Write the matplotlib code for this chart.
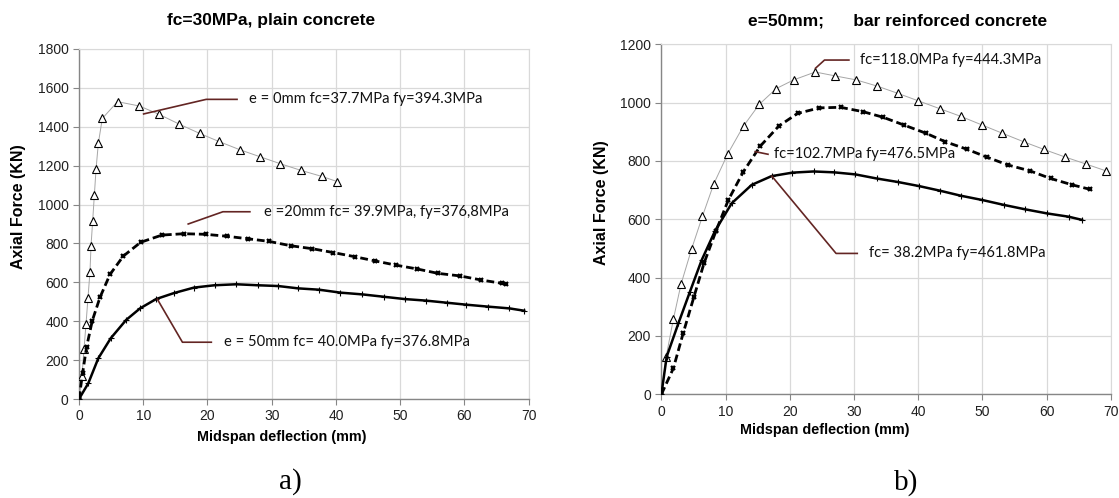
import matplotlib
matplotlib.use("Agg")
import matplotlib.pyplot as plt

# ---- data ----
# a) plain concrete, fc=30MPa
a_e0_x = [0, 0.47, 0.78, 1.09, 1.40, 1.71, 1.87, 2.13, 2.39, 2.65, 3.01, 3.63, 6.0,
          9.39, 12.46, 15.64, 18.77, 21.73, 25.03, 28.16, 31.34, 34.53, 37.77, 40.22]
a_e0_y = [0, 120, 256, 386, 521, 655, 787, 917, 1049, 1181, 1315, 1443, 1529,
          1507, 1464, 1413, 1366, 1325, 1282, 1246, 1210, 1176, 1145, 1118]

a_e20_x = [0, 0.57, 1.19, 2.07, 3.27, 4.83, 6.9, 9.6, 12.9, 16.3, 19.7, 23.0, 26.3,
           29.5, 33.0, 36.3, 39.6, 42.9, 46.1, 49.4, 52.6, 55.9, 59.3, 62.6, 65.8, 66.5]
a_e20_y = [0, 135, 269, 403, 523, 641, 735, 806, 843, 850, 847, 837, 824,
           811, 788, 773, 753, 732, 710, 688, 669, 646, 633, 612, 595, 590]

a_e50_x = [0, 1.45, 3.0, 4.93, 7.32, 9.5, 12.0, 14.8, 17.9, 21.1, 24.5, 27.8, 31.0,
           34.1, 37.4, 40.7, 44.1, 47.4, 50.7, 54.0, 57.3, 60.3, 63.7, 67.0, 69.3]
a_e50_y = [0, 81, 209, 312, 406, 466, 514, 545, 573, 585, 590, 585, 581,
           569, 562, 547, 538, 526, 514, 506, 495, 485, 475, 466, 454]

# b) bar reinforced concrete, e=50mm
b_118_x = [0, 0.72, 1.86, 3.05, 4.7, 6.4, 8.15, 10.35, 12.79, 15.24, 17.87, 20.6, 23.96,
           26.97, 30.32, 33.56, 36.8, 40.03, 43.38, 46.62, 49.86, 52.99, 56.39, 59.52,
           62.81, 66.05, 69.24]
b_118_y = [0, 127, 257, 377, 498, 611, 721, 825, 920, 994, 1048, 1078, 1105,
           1092, 1078, 1057, 1032, 1006, 979, 953, 924, 896, 866, 840,
           814, 790, 766]

b_102_x = [0, 1.86, 3.41, 5.08, 6.63, 8.5, 10.42, 12.76, 15.4, 18.3, 21.2, 24.6, 27.9,
           31.4, 34.5, 37.8, 41.2, 44.2, 47.6, 50.7, 54.0, 57.4, 60.6, 64.0, 66.7]
b_102_y = [0, 89, 211, 335, 449, 560, 666, 763, 851, 920, 963, 982, 984,
           969, 950, 923, 895, 866, 840, 813, 786, 766, 740, 718, 703]

b_38_x = [0, 0.82, 2.64, 4.45, 6.27, 8.35, 10.95, 14.06, 17.15, 20.4, 23.7, 26.9, 30.2,
          33.5, 36.8, 40.1, 43.4, 46.6, 50.0, 53.4, 56.7, 60.1, 63.4, 65.5]
b_38_y = [0, 129, 243, 352, 460, 560, 655, 718, 748, 760, 764, 761, 754,
          740, 728, 714, 698, 681, 666, 649, 634, 620, 609, 598]

a_labels = ["e = 0mm fc=37.7MPa fy=394.3MPa",
            "e =20mm fc= 39.9MPa, fy=376,8MPa",
            "e = 50mm fc= 40.0MPa fy=376.8MPa"]
b_labels = ["fc=118.0MPa fy=444.3MPa",
            "fc=102.7MPa fy=476.5MPa",
            "fc= 38.2MPa fy=461.8MPa"]

W, H = 1119, 498
plt.rcParams['font.family'] = ['Liberation Sans', 'DejaVu Sans']
fig = plt.figure(figsize=(W / 100, H / 100), dpi=100)

LEAD = '#632523'
ANN_FONT = ['Lato', 'DejaVu Sans']


def style_axes(ax, ymax, ystep, xlab_pos, ylab_pos):
    ax.set_xlim(0, 70)
    ax.set_ylim(0, ymax)
    ax.set_xticks(range(0, 71, 10))
    ax.set_yticks(range(0, ymax + 1, ystep))
    ax.grid(True, color='#d9d9d9', linewidth=0.9)
    ax.set_axisbelow(True)
    for s in ['top', 'right']:
        ax.spines[s].set_color('#d9d9d9')
    for s in ['left', 'bottom']:
        ax.spines[s].set_color('#868686')
        ax.spines[s].set_linewidth(1.0)
    ax.tick_params(axis='both', labelsize=10, length=4, width=0.8,
                   color='#868686', labelcolor='#202020')
    ax.set_xlabel('Midspan deflection (mm)', fontsize=10.4, fontweight='bold', va='center')
    ax.set_ylabel('Axial Force (KN)', fontsize=11.5, fontweight='bold', va='center')
    ax.xaxis.set_label_coords(*xlab_pos)
    ax.yaxis.set_label_coords(*ylab_pos)


def leader(ax, pts, text_x, text):
    xs = [p[0] for p in pts]
    ys = [p[1] for p in pts]
    ax.plot(xs, ys, color=LEAD, linewidth=1.2, zorder=5)
    ax.text(text_x, ys[-1], text, fontsize=10.6, family=ANN_FONT,
            va='center', ha='left', color='#111111')


# ---- a) ----
ax1 = fig.add_axes([79 / W, 99 / H, 449.7 / W, 350 / H])
ax1.plot(a_e0_x, a_e0_y, color='#a6a6a6', linewidth=0.7, marker='^', markersize=6,
         markerfacecolor='white', markeredgecolor='black', markeredgewidth=0.8, zorder=3)
ax1.plot(a_e20_x, a_e20_y, color='black', linewidth=2.0, dashes=(2.8, 1.4),
         marker='x', markersize=3.5, markeredgewidth=1.6, zorder=3)
ax1.plot(a_e50_x, a_e50_y, color='black', linewidth=1.8, marker='+',
         markersize=5, markeredgewidth=0.8, zorder=3)
style_axes(ax1, 1800, 200, (0.451, -0.108), (-0.1356, 0.549))
leader(ax1, [(10.06, 1466), (19.8, 1541), (24.6, 1541)], 26.5, a_labels[0])
leader(ax1, [(17.0, 900), (22.4, 963), (26.6, 963)], 28.8, a_labels[1])
leader(ax1, [(12.2, 513), (16.1, 292), (20.6, 292)], 22.5, a_labels[2])

# ---- b) ----
ax2 = fig.add_axes([661.4 / W, 103.7 / H, 449.5 / W, 350 / H])
ax2.plot(b_118_x, b_118_y, color='#a6a6a6', linewidth=0.7, marker='^', markersize=6,
         markerfacecolor='white', markeredgecolor='black', markeredgewidth=0.8, zorder=3)
ax2.plot(b_102_x, b_102_y, color='black', linewidth=2.0, dashes=(2.8, 1.4),
         marker='x', markersize=3.5, markeredgewidth=1.6, zorder=3)
ax2.plot(b_38_x, b_38_y, color='black', linewidth=1.8, marker='+',
         markersize=5, markeredgewidth=0.8, zorder=3)
style_axes(ax2, 1200, 200, (0.364, -0.102), (-0.1328, 0.547))
leader(ax2, [(24.0, 1118), (25.4, 1146), (29.2, 1146)], 30.9, b_labels[0])
leader(ax2, [(14.6, 832), (16.6, 823)], 17.6, b_labels[1])
leader(ax2, [(17.2, 748), (27.2, 483), (30.5, 483)], 32.3, b_labels[2])

# titles and captions
fig.text(271 / W, 1 - 21 / H, 'fc=30MPa, plain concrete', ha='center', va='center',
         fontsize=12.5, fontweight='bold')
fig.text(898 / W, 1 - 21 / H, 'e=50mm;      bar reinforced concrete', ha='center',
         va='center', fontsize=12.5, fontweight='bold')
fig.text(290 / W, 1 - 482 / H, 'a)', ha='center', va='center', fontsize=21,
         family='Liberation Serif')
fig.text(906 / W, 1 - 483 / H, 'b)', ha='center', va='center', fontsize=21,
         family='Liberation Serif')

fig.savefig('out.png', dpi=100)
